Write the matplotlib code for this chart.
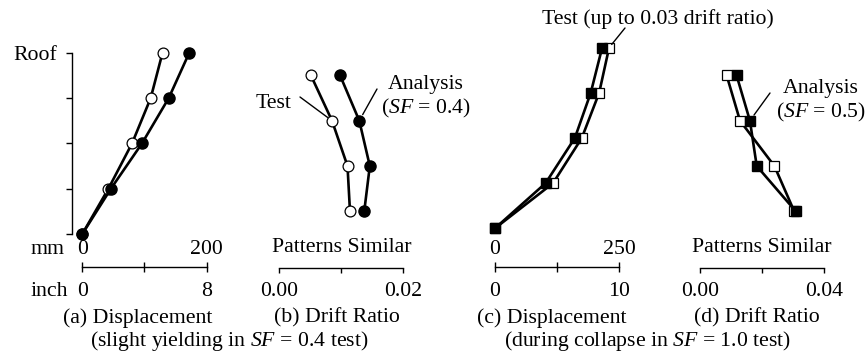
import matplotlib
matplotlib.use('Agg')
import matplotlib.pyplot as plt
import matplotlib.transforms as mtransforms

plt.rcParams['font.family'] = ['Liberation Serif', 'DejaVu Serif']
plt.rcParams['mathtext.fontset'] = 'custom'
plt.rcParams['mathtext.rm'] = 'Liberation Serif'
plt.rcParams['mathtext.it'] = 'Liberation Serif:italic'

W, H = 865, 360
FS = 15.7

# floor levels (0 = ground, 4 = roof) and story mid-heights
levels = [0, 1, 2, 3, 4]
stories = [0.5, 1.5, 2.5, 3.5]

# (a) displacement, SF = 0.4, mm
a_test = [0, 42, 80, 110, 129]
a_analysis = [0, 46, 96, 139, 172]
# (b) story drift ratio, SF = 0.4
b_test = [0.0114, 0.0110, 0.0085, 0.0051]
b_analysis = [0.0137, 0.0146, 0.0129, 0.0098]
# (c) displacement, SF = 1.0, mm
c_test = [0, 117, 175, 210, 230]
c_analysis = [0, 102, 161, 193, 216]
# (d) story drift ratio, SF = 1.0
d_test = [0.0304, 0.0240, 0.0129, 0.0086]
d_analysis = [0.0309, 0.0183, 0.0161, 0.0118]


def fx(px):
    return px / W


def fy(py):
    return 1 - py / H


def make_ax(fig, left, right, top, bottom, xmax, bar_offset, tickdir):
    ax = fig.add_axes([fx(left), fy(bottom), fx(right - left), (bottom - top) / H])
    ax.set_xlim(0, xmax)
    ax.set_ylim(0, 4)
    ax.patch.set_visible(False)
    for s in ['top', 'right', 'left']:
        ax.spines[s].set_visible(False)
    ax.spines['bottom'].set_position(('outward', bar_offset * 0.72))
    ax.spines['bottom'].set_linewidth(1.0)
    ax.set_xticks([0, xmax / 2, xmax])
    ax.set_xticklabels([])
    ax.tick_params(axis='x', direction=tickdir, length=6.5 if tickdir == 'inout' else 3.6,
                   width=1.0)
    ax.set_yticks([])
    return ax


def label(ax, fig, x, py, s, ha='center'):
    tr = mtransforms.blended_transform_factory(ax.transData, fig.transFigure)
    ax.text(x, fy(py), s, transform=tr, ha=ha, va='center', fontsize=FS, clip_on=False)


fig = plt.figure(figsize=(W / 100, H / 100), dpi=100)

open_kw = dict(color='black', lw=1.9, markerfacecolor='white', markeredgecolor='black',
               markeredgewidth=0.9, clip_on=False, zorder=3)
fill_kw = dict(color='black', lw=1.9, markerfacecolor='black', markeredgecolor='black',
               clip_on=False, zorder=4)

# (a)
ax = make_ax(fig, 82.3, 206.7, 52.7, 234, 200, 32.7, 'inout')
ax.plot(a_test, levels, marker='o', ms=7.8, **open_kw)
ax.plot(a_analysis, levels, marker='o', ms=8, **fill_kw)
ax.spines['left'].set_visible(True)
ax.spines['left'].set_position(('outward', 10 * 0.72))
ax.spines['left'].set_linewidth(1.0)
ax.set_yticks(levels)
ax.set_yticklabels(['', '', '', '', 'Roof'], fontsize=FS)
ax.tick_params(axis='y', direction='out', length=4, width=1.0, pad=7)
label(ax, fig, 0, 249, '0')
label(ax, fig, 200, 249, '200')
label(ax, fig, 0, 291, '0')
label(ax, fig, 200, 291, '8')
fig.text(fx(31), fy(249), 'mm', fontsize=FS, ha='left', va='center')
fig.text(fx(31), fy(291), 'inch', fontsize=FS, ha='left', va='center')

# (b)
ax = make_ax(fig, 279.3, 403.3, 52.7, 234, 0.02, 34.3, 'out')
ax.plot(b_test, stories, marker='o', ms=7.8, **open_kw)
ax.plot(b_analysis, stories, marker='o', ms=8, **fill_kw)
label(ax, fig, 0.01, 247, 'Patterns Similar')
label(ax, fig, 0, 291, '0.00')
label(ax, fig, 0.02, 291, '0.02')
ax.annotate('', xy=(b_test[2], stories[2]), xytext=(fx(300), fy(97)),
            textcoords='figure fraction',
            arrowprops=dict(arrowstyle='-', lw=1.0, shrinkA=0, shrinkB=4))
fig.text(fx(256), fy(103), 'Test', fontsize=FS, ha='left', va='center')
ax.annotate('', xy=(b_analysis[2], stories[2]), xytext=(fx(377), fy(89)),
            textcoords='figure fraction',
            arrowprops=dict(arrowstyle='-', lw=1.0, shrinkA=0, shrinkB=5))
fig.text(fx(426), fy(85), 'Analysis', fontsize=FS, ha='center', va='center')
fig.text(fx(426), fy(108), '($SF$ = 0.4)', fontsize=FS, ha='center', va='center')

# (c)
ax = make_ax(fig, 495, 619, 47.7, 228.3, 250, 38.4, 'inout')
ax.plot(c_test, levels, marker='s', ms=6.5, **open_kw)
ax.plot(c_analysis, levels, marker='s', ms=6.5, **fill_kw)
label(ax, fig, 0, 249, '0')
label(ax, fig, 250, 249, '250')
label(ax, fig, 0, 291, '0')
label(ax, fig, 250, 291, '10')
ax.annotate('', xy=(c_test[4], levels[4]), xytext=(fx(625), fy(28)),
            textcoords='figure fraction',
            arrowprops=dict(arrowstyle='-', lw=1.0, shrinkA=0, shrinkB=3))
fig.text(fx(657.5), fy(19), 'Test (up to 0.03 drift ratio)', fontsize=FS,
         ha='center', va='center')

# (d)
ax = make_ax(fig, 700, 824, 52.7, 234, 0.04, 34.3, 'out')
ax.plot(d_test, stories, marker='s', ms=6.5, **open_kw)
ax.plot(d_analysis, stories, marker='s', ms=6.5, **fill_kw)
label(ax, fig, 0.02, 247, 'Patterns Similar')
label(ax, fig, 0, 291, '0.00')
label(ax, fig, 0.04, 291, '0.04')
ax.annotate('', xy=(d_analysis[2], stories[2]), xytext=(fx(770), fy(93)),
            textcoords='figure fraction',
            arrowprops=dict(arrowstyle='-', lw=1.0, shrinkA=0, shrinkB=5))
fig.text(fx(821), fy(89), 'Analysis', fontsize=FS, ha='center', va='center')
fig.text(fx(821), fy(112), '($SF$ = 0.5)', fontsize=FS, ha='center', va='center')

# captions
fig.text(fx(138), fy(318), '(a) Displacement', fontsize=FS, ha='center', va='center')
fig.text(fx(337), fy(318), '(b) Drift Ratio', fontsize=FS, ha='center', va='center')
fig.text(fx(229), fy(341), '(slight yielding in $SF$ = 0.4 test)', fontsize=FS,
         ha='center', va='center')
fig.text(fx(552), fy(318), '(c) Displacement', fontsize=FS, ha='center', va='center')
fig.text(fx(757), fy(318), '(d) Drift Ratio', fontsize=FS, ha='center', va='center')
fig.text(fx(647), fy(341), '(during collapse in $SF$ = 1.0 test)', fontsize=FS,
         ha='center', va='center')

fig.savefig('out.png', dpi=100)
